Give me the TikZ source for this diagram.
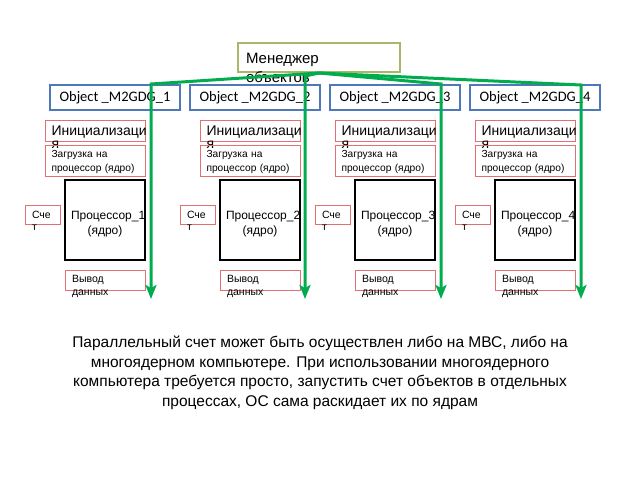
\documentclass[tikz,border=0pt]{standalone}
\usepackage{fontspec}
\setmainfont{Liberation Sans}
\newfontfamily\objfont{Carlito}
\usetikzlibrary{shapes,arrows,arrows.meta}
\definecolor{objblue}{RGB}{79,120,186}
\definecolor{boxred}{RGB}{226,112,112}
\definecolor{mgrolive}{RGB}{170,182,104}
\definecolor{arrowgreen}{RGB}{0,172,78}

\begin{document}
\begin{tikzpicture}[x=1pt,y=-1pt,>={Stealth[length=14pt,width=11pt,inset=3pt]},node distance=140pt,
  mgr node/.style={draw=mgrolive,line width=2pt,inner xsep=8pt,inner ysep=0pt,text width=146pt,align=left,
    text height=20pt,text depth=9pt,font=\fontsize{15}{19}\selectfont},
  obj node/.style={draw=objblue,line width=1.5pt,minimum width=130pt,minimum height=25pt,inner sep=0pt,
    font=\objfont\fontsize{14.5}{16}\selectfont},
  init node/.style={draw=boxred,line width=1pt,inner xsep=6pt,inner ysep=0pt,text width=88pt,align=left,
    text height=15pt,text depth=6pt,font=\fontsize{14}{13}\selectfont},
  load node/.style={draw=boxred,line width=1pt,inner xsep=6pt,inner ysep=0pt,text width=88pt,align=left,
    text height=12pt,text depth=19pt,font=\fontsize{10.2}{14}\selectfont},
  proc node/.style={draw,line width=1.8pt,inner xsep=6pt,inner ysep=0pt,text width=68pt,align=center,
    minimum height=80pt,text height=14pt,text depth=16pt,font=\fontsize{12}{15}\selectfont},
  count node/.style={draw=boxred,line width=1pt,inner xsep=7pt,inner ysep=0pt,text width=21pt,align=left,
    text height=13pt,text depth=6pt,font=\fontsize{10.5}{12}\selectfont},
  out node/.style={draw=boxred,line width=1pt,inner xsep=7pt,inner ysep=0pt,text width=66pt,align=left,
    text height=12pt,text depth=8pt,font=\fontsize{10.5}{13}\selectfont},
  flow/.style={->,draw=arrowgreen,line width=3pt}]

  \useasboundingbox (0,0) rectangle (640,480);

  \node[mgr node] (mgr) at (319,57.5) {Менеджер\\объектов};

  \node[obj node] (obj1) at (115,97.5) {Object \_M2GDG\_1};
  \node[obj node] (obj2) [right of=obj1] {Object \_M2GDG\_2};
  \node[obj node] (obj3) [right of=obj2] {Object \_M2GDG\_3};
  \node[obj node] (obj4) [right of=obj3] {Object \_M2GDG\_4};

  \node[proc node] (proc1) at (105,220) {Процессор\_1\\(ядро)};
  \node[init node] (init1) [node distance=89.5pt,xshift=-9.5pt] [above of=proc1] {Инициализаци\\я};
  \node[load node] (load1) [node distance=30pt] [below of=init1] {Загрузка на\\процессор (ядро)};
  \node[count node] (count1) [node distance=62.5pt,yshift=5.5pt] [left of=proc1] {Сче\\т};
  \node[out node] (out1) [node distance=60pt] [below of=proc1] {Вывод\\данных};

  \node[proc node] (proc2) at (260,220) {Процессор\_2\\(ядро)};
  \node[init node] (init2) [node distance=89.5pt,xshift=-9.5pt] [above of=proc2] {Инициализаци\\я};
  \node[load node] (load2) [node distance=30pt] [below of=init2] {Загрузка на\\процессор (ядро)};
  \node[count node] (count2) [node distance=62.5pt,yshift=5.5pt] [left of=proc2] {Сче\\т};
  \node[out node] (out2) [node distance=60pt] [below of=proc2] {Вывод\\данных};

  \node[proc node] (proc3) at (395,220) {Процессор\_3\\(ядро)};
  \node[init node] (init3) [node distance=89.5pt,xshift=-9.5pt] [above of=proc3] {Инициализаци\\я};
  \node[load node] (load3) [node distance=30pt] [below of=init3] {Загрузка на\\процессор (ядро)};
  \node[count node] (count3) [node distance=62.5pt,yshift=5.5pt] [left of=proc3] {Сче\\т};
  \node[out node] (out3) [node distance=60pt] [below of=proc3] {Вывод\\данных};

  \node[proc node] (proc4) at (535,220) {Процессор\_4\\(ядро)};
  \node[init node] (init4) [node distance=89.5pt,xshift=-9.5pt] [above of=proc4] {Инициализаци\\я};
  \node[load node] (load4) [node distance=30pt] [below of=init4] {Загрузка на\\процессор (ядро)};
  \node[count node] (count4) [node distance=62.5pt,yshift=5.5pt] [left of=proc4] {Сче\\т};
  \node[out node] (out4) [node distance=60pt] [below of=proc4] {Вывод\\данных};

  \coordinate (turn1) at (151,84);
  \coordinate (turn2) at (305,76);
  \coordinate (turn3) at (441,84);
  \coordinate (turn4) at (581,85);
  \coordinate (end1) at (151,299);
  \coordinate (end2) at (305,299);
  \coordinate (end3) at (441,299);
  \coordinate (end4) at (581,299);

  \draw[flow] (mgr.south) -- (turn1) -- (end1);
  \draw[flow] (mgr.south) -- (turn2) -- (end2);
  \draw[flow] (mgr.south) -- (turn3) -- (end3);
  \draw[flow] (mgr.south) -- (turn4) -- (end4);

  \node[align=center,font=\fontsize{15.5}{19.5}\selectfont] (note) at (320,373)
    {Параллельный счет может быть осуществлен либо на МВС, либо на\\
     многоядерном компьютере. При использовании многоядерного\\
     компьютера требуется просто, запустить счет объектов в отдельных\\
     процессах, ОС сама раскидает их по ядрам};
\end{tikzpicture}
\end{document}
